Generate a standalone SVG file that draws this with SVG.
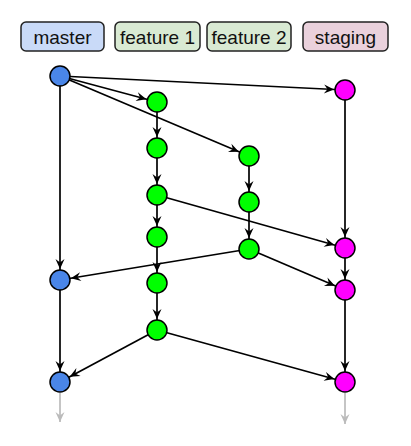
<svg xmlns="http://www.w3.org/2000/svg" width="411" height="446" viewBox="0 0 411 446">
<style>
.lbl{stroke:#222;stroke-width:1.5}
.t{font-family:"Liberation Sans",Arial,sans-serif;font-size:19px;fill:#111;text-anchor:middle}
.e{stroke:#000;stroke-width:1.7;fill:none;marker-end:url(#ah)}
.g{stroke:#bbb;stroke-width:1.7;fill:none;marker-end:url(#ahg)}
.n{stroke:#000;stroke-width:1.5}
.m{fill:#4a86e8}.f{fill:#00ff00}.s{fill:#ff00ff}
</style>
<defs>
<marker id="ah" markerUnits="userSpaceOnUse" markerWidth="24" markerHeight="12" refX="11" refY="0" orient="auto" overflow="visible">
<path d="M0,0 L-10,-4.5 L-6.5,0 L-10,4.5 Z" fill="#000"/>
</marker>
<marker id="ahg" markerUnits="userSpaceOnUse" markerWidth="24" markerHeight="12" refX="0" refY="0" orient="auto" overflow="visible">
<path d="M0,0 L-10,-4.5 L-6.5,0 L-10,4.5 Z" fill="#bbb"/>
</marker>
</defs>
<g id="label-master"><rect class="lbl" x="21" y="22" width="83" height="29" rx="5" fill="#c9daf8"/><text class="t" x="62.5" y="43.5">master</text></g>
<g id="label-feature1"><rect class="lbl" x="115" y="22" width="85" height="29" rx="5" fill="#d9ead3"/><text class="t" x="157.5" y="43.5">feature 1</text></g>
<g id="label-feature2"><rect class="lbl" x="207" y="22" width="84" height="29" rx="5" fill="#d9ead3"/><text class="t" x="249" y="43.5">feature 2</text></g>
<g id="label-staging"><rect class="lbl" x="303" y="22" width="85" height="29" rx="5" fill="#ead1dc"/><text class="t" x="345.5" y="43.5">staging</text></g>
<g id="connectors">
<line class="e" x1="60" y1="76" x2="345" y2="90"/>
<line class="e" x1="60" y1="76" x2="157" y2="102"/>
<line class="e" x1="60" y1="76" x2="249" y2="156"/>
<line class="e" x1="60" y1="76" x2="60" y2="280"/>
<line class="e" x1="157" y1="102" x2="157" y2="148"/>
<line class="e" x1="157" y1="148" x2="157" y2="195"/>
<line class="e" x1="157" y1="195" x2="157" y2="237"/>
<line class="e" x1="157" y1="237" x2="157" y2="283"/>
<line class="e" x1="157" y1="283" x2="157" y2="330"/>
<line class="e" x1="249" y1="156" x2="249" y2="202"/>
<line class="e" x1="249" y1="202" x2="249" y2="249"/>
<line class="e" x1="157" y1="195" x2="345" y2="248"/>
<line class="e" x1="345" y1="90" x2="345" y2="248"/>
<line class="e" x1="249" y1="249" x2="60" y2="280"/>
<line class="e" x1="249" y1="249" x2="345" y2="290"/>
<line class="e" x1="345" y1="248" x2="345" y2="290"/>
<line class="e" x1="345" y1="290" x2="345" y2="382"/>
<line class="e" x1="157" y1="330" x2="60" y2="382"/>
<line class="e" x1="157" y1="330" x2="345" y2="382"/>
<line class="e" x1="60" y1="280" x2="60" y2="382"/>
<line class="g" x1="60" y1="393" x2="60" y2="422"/>
<line class="g" x1="345" y1="393" x2="345" y2="424"/>
</g>
<g id="m1"><circle class="n m" cx="60" cy="76" r="10"/></g>
<g id="m2"><circle class="n m" cx="60" cy="280" r="10"/></g>
<g id="m3"><circle class="n m" cx="60" cy="382" r="10"/></g>
<g id="f1a"><circle class="n f" cx="157" cy="102" r="10"/></g>
<g id="f1b"><circle class="n f" cx="157" cy="148" r="10"/></g>
<g id="f1c"><circle class="n f" cx="157" cy="195" r="10"/></g>
<g id="f1d"><circle class="n f" cx="157" cy="237" r="10"/></g>
<g id="f1e"><circle class="n f" cx="157" cy="283" r="10"/></g>
<g id="f1f"><circle class="n f" cx="157" cy="330" r="10"/></g>
<g id="f2a"><circle class="n f" cx="249" cy="156" r="10"/></g>
<g id="f2b"><circle class="n f" cx="249" cy="202" r="10"/></g>
<g id="f2c"><circle class="n f" cx="249" cy="249" r="10"/></g>
<g id="s1"><circle class="n s" cx="345" cy="90" r="10"/></g>
<g id="s2"><circle class="n s" cx="345" cy="248" r="10"/></g>
<g id="s3"><circle class="n s" cx="345" cy="290" r="10"/></g>
<g id="s4"><circle class="n s" cx="345" cy="382" r="10"/></g>
</svg>
